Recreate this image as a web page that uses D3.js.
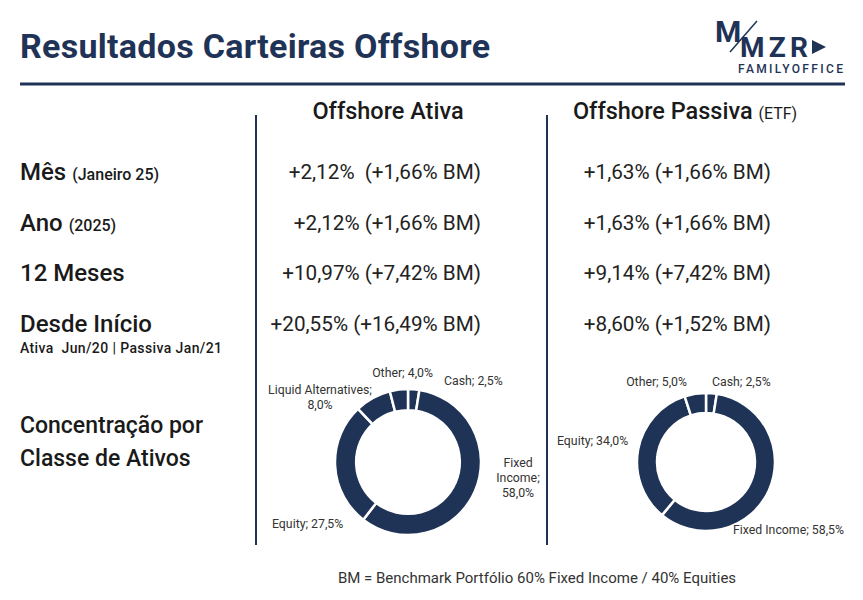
<!DOCTYPE html>
<html><head><meta charset="utf-8">
<script src="https://cdn.jsdelivr.net/npm/d3@7"></script>
<style>body{margin:0;background:#fff}text{font-family:Roboto,sans-serif;white-space:pre}</style>
</head><body><svg id="c" width="863" height="600"></svg>
<script>
const navy = "#1f3356";
const rowLabels = ["Mês", "Ano", "12 Meses", "Desde Início"];
const rowNotes = ["(Janeiro 25)", "(2025)", "", ""];
const ativa = ["+2,12%  (+1,66% BM)", "+2,12% (+1,66% BM)", "+10,97% (+7,42% BM)", "+20,55% (+16,49% BM)"];
const passiva = ["+1,63% (+1,66% BM)", "+1,63% (+1,66% BM)", "+9,14% (+7,42% BM)", "+8,60% (+1,52% BM)"];
const ativaAlloc = [["Cash", 2.5], ["Fixed Income", 58.0], ["Equity", 27.5], ["Liquid Alternatives", 8.0], ["Other", 4.0]];
const passivaAlloc = [["Cash", 2.5], ["Fixed Income", 58.5], ["Equity", 34.0], ["Other", 5.0]];

const svg = d3.select("#c");
svg.append("text").attr("x", 20).attr("y", 58).attr("font-size", 34).attr("font-weight", 700)
  .attr("fill", navy).attr("textLength", 470).text("Resultados Carteiras Offshore");
svg.append("line").attr("x1", 20).attr("x2", 845).attr("y1", 84).attr("y2", 84)
  .attr("stroke", navy).attr("stroke-width", 3);

// logo
const lg = svg.append("g").attr("fill", navy);
lg.append("text").attr("x", 715).attr("y", 42).attr("font-size", 30).attr("font-weight", 700).text("M");
lg.append("text").attr("x", 740).attr("y", 57).attr("font-size", 28).attr("font-weight", 700).attr("textLength", 68).text("MZR");
lg.append("path").attr("d", "M812,40 L826,47 L812,54 Z");
lg.append("line").attr("x1", 730).attr("y1", 52).attr("x2", 757).attr("y2", 21).attr("stroke", navy).attr("stroke-width", 1.5);
lg.append("text").attr("x", 738).attr("y", 73).attr("font-size", 12).attr("textLength", 105).attr("font-weight", 500).text("FAMILYOFFICE");

// vertical dividers
[256, 547].forEach(x => svg.append("line").attr("x1", x).attr("x2", x).attr("y1", 115).attr("y2", 545)
  .attr("stroke", navy).attr("stroke-width", 2));

svg.append("text").attr("x", 388).attr("y", 119).attr("text-anchor", "middle").attr("font-size", 23.5)
  .attr("font-weight", 500).attr("fill", "#1a1a1a").text("Offshore Ativa");
const h2 = svg.append("text").attr("x", 685).attr("y", 119).attr("text-anchor", "middle").attr("font-size", 23.5)
  .attr("font-weight", 500).attr("fill", "#1a1a1a").text("Offshore Passiva ");
h2.append("tspan").attr("font-size", 16).attr("font-weight", 400).text("(ETF)");

const rowY = d3.scalePoint().domain(d3.range(4)).range([172, 324]);
rowLabels.forEach((l, i) => {
  const t = svg.append("text").attr("x", 20).attr("y", rowY(i) + 8).attr("font-size", 24)
    .attr("font-weight", 500).attr("fill", "#1a1a1a").text(l + " ");
  if (rowNotes[i]) t.append("tspan").attr("font-size", 16).text(rowNotes[i]);
  svg.append("text").attr("x", 481).attr("y", rowY(i) + 7).attr("text-anchor", "end").attr("font-size", 20.7)
    .attr("fill", "#222").text(ativa[i]);
  svg.append("text").attr("x", 771).attr("y", rowY(i) + 7).attr("text-anchor", "end").attr("font-size", 20.7)
    .attr("fill", "#222").text(passiva[i]);
});
svg.append("text").attr("x", 20).attr("y", 353).attr("font-size", 14).attr("font-weight", 500)
  .attr("fill", "#1a1a1a").attr("textLength", 202).text("Ativa  Jun/20 | Passiva Jan/21");
["Concentração por", "Classe de Ativos"].forEach((s, i) =>
  svg.append("text").attr("x", 20).attr("y", 433 + i * 33).attr("font-size", 23).attr("font-weight", 500)
    .attr("fill", "#1a1a1a").text(s));

function donut(data, cx, cy, r, labels) {
  const pie = d3.pie().sort(null).value(d => d[1]);
  const arc = d3.arc().innerRadius(r * 0.71).outerRadius(r);
  const g = svg.append("g").attr("transform", `translate(${cx},${cy})`);
  g.selectAll("path").data(pie(data)).join("path").attr("d", arc)
    .attr("fill", navy).attr("stroke", "#fff").attr("stroke-width", 2.5);
  labels.forEach(l => {
    const t = svg.append("text").attr("x", l[0]).attr("y", l[1]).attr("text-anchor", l[2])
      .attr("font-size", 12.3).attr("fill", "#333");
    l[3].forEach((s, j) => t.append("tspan").attr("x", l[0]).attr("dy", j ? 15 : 0).text(s));
  });
}
donut(ativaAlloc, 408, 462, 73, [
  [444, 385, "start", ["Cash; 2,5%"]],
  [433, 377, "end", ["Other; 4,0%"]],
  [320, 394, "middle", ["Liquid Alternatives;", "8,0%"]],
  [518, 467, "middle", ["Fixed", "Income;", "58,0%"]],
  [272, 528, "start", ["Equity; 27,5%"]]
]);
donut(passivaAlloc, 706, 462, 69, [
  [712, 386, "start", ["Cash; 2,5%"]],
  [687, 386, "end", ["Other; 5,0%"]],
  [557, 445, "start", ["Equity; 34,0%"]],
  [733, 534, "start", ["Fixed Income; 58,5%"]]
]);
svg.append("text").attr("x", 537).attr("y", 583).attr("text-anchor", "middle").attr("font-size", 15)
  .attr("fill", "#333").text("BM = Benchmark Portfólio 60% Fixed Income / 40% Equities");
</script></body></html>
